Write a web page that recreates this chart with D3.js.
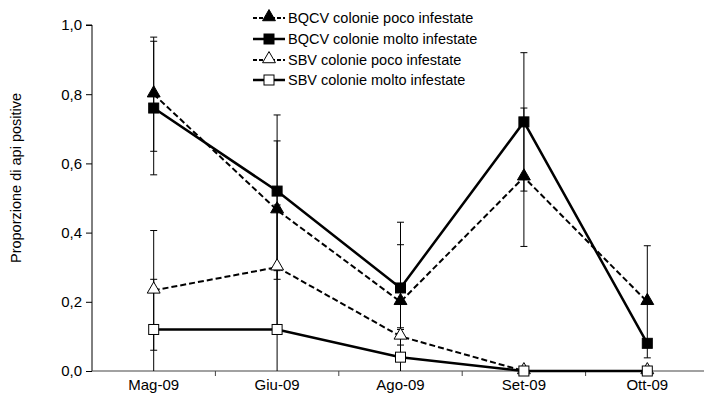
<!DOCTYPE html>
<html>
<head>
<meta charset="utf-8">
<script src="https://cdn.jsdelivr.net/npm/d3@7"></script>
<style>
  html, body { margin: 0; padding: 0; background: #fff; }
  svg { display: block; font-family: "Liberation Sans", Arial, sans-serif; }
</style>
</head>
<body>
<svg id="chart" width="704" height="401"></svg>
<script>
// Months sampled
const months = ["Mag-09", "Giu-09", "Ago-09", "Set-09", "Ott-09"];

// Proportion of positive bees per series
const bqcvPoco  = [0.80, 0.465, 0.20, 0.56, 0.20];
const bqcvMolto = [0.76, 0.52, 0.24, 0.72, 0.08];
const sbvPoco   = [0.233, 0.30, 0.10, 0.0, 0.0];
const sbvMolto  = [0.12, 0.12, 0.04, 0.0, 0.0];

// Error bar half-widths per series
const bqcvPocoErr  = [0.165, 0.20, 0.165, 0.20, 0.162];
const bqcvMoltoErr = [0.193, 0.22, 0.19, 0.20, 0.0];
const sbvPocoErr   = [0.173, 0.18, 0.025, 0.0, 0.0];
const sbvMoltoErr  = [0.145, 0.17, 0.08, 0.0, 0.0];

const yTicks = [0, 0.2, 0.4, 0.6, 0.8, 1.0];
const yTitle = "Proporzione di api positive";

const seriesNames = [
  "BQCV colonie poco infestate",
  "BQCV colonie molto infestate",
  "SBV colonie poco infestate",
  "SBV colonie molto infestate"
];

const series = [
  { name: seriesNames[0], values: bqcvPoco,  err: bqcvPocoErr,  dashed: true,  shape: "triangle", filled: true },
  { name: seriesNames[1], values: bqcvMolto, err: bqcvMoltoErr, dashed: false, shape: "square",   filled: true },
  { name: seriesNames[2], values: sbvPoco,   err: sbvPocoErr,   dashed: true,  shape: "triangle", filled: false },
  { name: seriesNames[3], values: sbvMolto,  err: sbvMoltoErr,  dashed: false, shape: "square",   filled: false }
];

const svg = d3.select("#chart");
const plot = { left: 92, right: 709, top: 25, bottom: 371 };

const x = d3.scaleBand().domain(months).range([plot.left, plot.right]);
const y = d3.scaleLinear().domain([0, 1]).range([plot.bottom, plot.top]);
const cx = d => x(d) + x.bandwidth() / 2;

svg.append("defs").append("clipPath").attr("id", "plotClip")
  .append("rect")
  .attr("x", plot.left).attr("y", plot.top)
  .attr("width", plot.right - plot.left).attr("height", plot.bottom - plot.top);

// Y axis
const yAxis = d3.axisLeft(y).tickValues(yTicks).tickSize(6).tickPadding(4)
  .tickFormat(d => d3.format(".1f")(d).replace(".", ","));
const gy = svg.append("g").attr("transform", `translate(${plot.left},0)`).call(yAxis);
gy.select(".domain").attr("stroke", "#000").attr("d", `M-6,${plot.top}H0V${plot.bottom}`);
gy.selectAll(".tick line").attr("stroke", "#000");
gy.selectAll(".tick text").attr("font-size", 15).attr("fill", "#000")
  .attr("font-family", "Liberation Sans, Arial, sans-serif");

// X axis: tick marks on category boundaries, labels at centres
const gx = svg.append("g").attr("transform", `translate(0,${plot.bottom})`);
gx.append("line").attr("x1", plot.left).attr("x2", plot.right)
  .attr("stroke", "#444").attr("stroke-width", 1.2);
gx.selectAll("line.bound").data(months.slice(1)).join("line")
  .attr("class", "bound")
  .attr("x1", d => x(d)).attr("x2", d => x(d))
  .attr("y1", 0).attr("y2", 5).attr("stroke", "#444");
gx.selectAll("text").data(months).join("text")
  .attr("x", d => cx(d)).attr("y", 19)
  .attr("text-anchor", "middle").attr("font-size", 15).attr("fill", "#000")
  .text(d => d);

// Y axis title
svg.append("text")
  .attr("transform", `translate(21,178) rotate(-90)`)
  .attr("text-anchor", "middle").attr("font-size", 14.5).attr("fill", "#000")
  .text(yTitle);

// Error bars
const errG = svg.append("g").attr("clip-path", "url(#plotClip)");
series.forEach(s => {
  months.forEach((m, i) => {
    const e = s.err[i];
    if (!e) return;
    const v = s.values[i];
    const g = errG.append("g").attr("stroke", "#000").attr("stroke-width", 1);
    g.append("line").attr("x1", cx(m)).attr("x2", cx(m))
      .attr("y1", y(v + e)).attr("y2", y(v - e));
    [v + e, v - e].forEach(b => {
      g.append("line").attr("x1", cx(m) - 3.5).attr("x2", cx(m) + 3.5)
        .attr("y1", y(b)).attr("y2", y(b));
    });
  });
});

// Series lines
const line = d3.line().x((d, i) => cx(months[i])).y(d => y(d));
series.forEach(s => {
  svg.append("path").datum(s.values)
    .attr("d", line).attr("fill", "none").attr("stroke", "#000")
    .attr("stroke-width", s.dashed ? 2 : 2.5)
    .attr("stroke-dasharray", s.dashed ? "6,3" : null);
});

// Markers
const triangle = d3.symbol().type(d3.symbolTriangle).size(72);
function marker(g, s, px, py) {
  if (s.shape === "triangle") {
    g.append("path").attr("d", triangle())
      .attr("transform", `translate(${px},${py - 1})`)
      .attr("fill", s.filled ? "#000" : "#fff")
      .attr("stroke", "#000").attr("stroke-width", 1);
  } else {
    g.append("rect").attr("x", px - 5).attr("y", py - 5)
      .attr("width", 10).attr("height", 10)
      .attr("fill", s.filled ? "#000" : "#fff")
      .attr("stroke", "#000").attr("stroke-width", 1);
  }
}
const markG = svg.append("g");
series.forEach(s => {
  s.values.forEach((v, i) => marker(markG, s, cx(months[i]), y(v)));
});

// Legend
const legend = svg.append("g");
const legendY = [18, 39, 60, 80];
series.forEach((s, i) => {
  const ly = legendY[i];
  legend.append("line").attr("x1", 253).attr("x2", 285).attr("y1", ly).attr("y2", ly)
    .attr("stroke", "#000").attr("stroke-width", s.dashed ? 2 : 2.5)
    .attr("stroke-dasharray", s.dashed ? "4,2" : null);
  marker(legend, s, 269, ly);
  legend.append("text").attr("x", 288).attr("y", ly).attr("dy", "0.35em")
    .attr("font-size", 14.5).attr("fill", "#000").text(s.name);
});
</script>
</body>
</html>
